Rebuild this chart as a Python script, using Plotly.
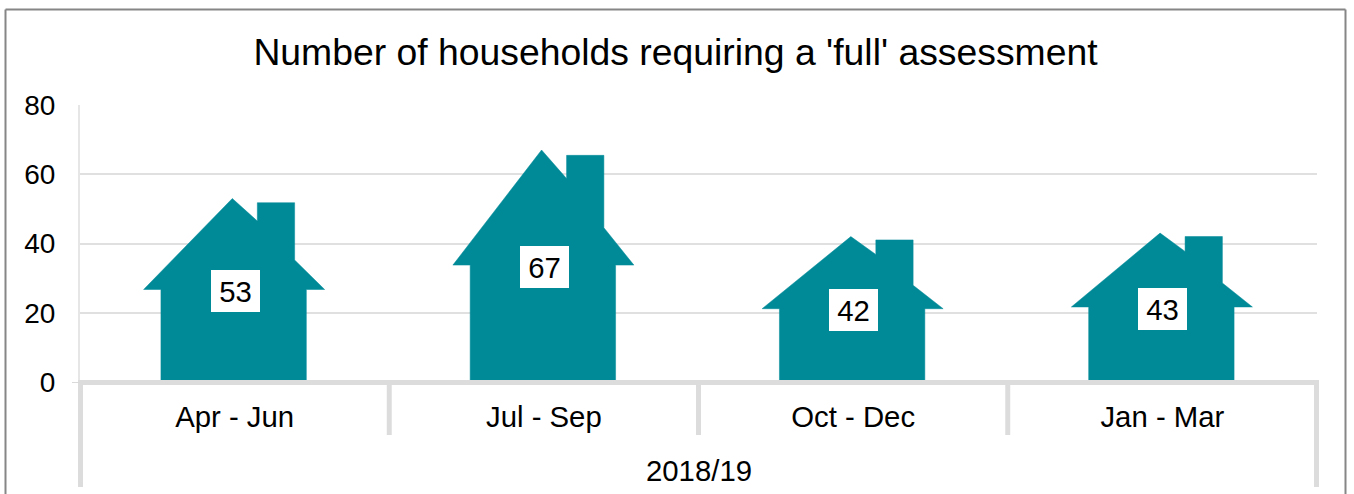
import plotly.graph_objects as go

title = "Number of households requiring a 'full' assessment"
categories = ["Apr - Jun", "Jul - Sep", "Oct - Dec", "Jan - Mar"]
period = "2018/19"
values = [53, 67, 42, 43]
y_ticks = [0, 20, 40, 60, 80]

TEAL = "#008a98"
GREY = "#d9d9d9"
FONT = "Liberation Sans, Arial, sans-serif"
W, H = 1354, 494
L, R, T, B = 80, 1317, 105, 382

# unit house outline: x offset in category widths, y as a fraction of the value
HOUSE_X = [-73.7, -73.7, -91, -2.3, 22.7, 22.7, 60, 60, 90, 71.7, 71.7]
HOUSE_Y = [0, 0.504, 0.504, 1, 0.877, 0.977, 0.977, 0.665, 0.504, 0.504, 0]
CAT_PX = (R - L) / 4

fig = go.Figure()
for i, v in enumerate(values):
    fig.add_trace(go.Scatter(
        x=[i + dx / CAT_PX for dx in HOUSE_X] + [i + HOUSE_X[0] / CAT_PX],
        y=[v * f for f in HOUSE_Y] + [0],
        mode="lines", fill="toself", fillcolor=TEAL,
        line=dict(color=TEAL, width=0.5),
        hoverinfo="skip", showlegend=False,
    ))
    fig.add_annotation(
        x=i, y=v * 0.5, xref="x", yref="y", text=str(v), showarrow=False,
        bgcolor="white", width=49, height=42, borderpad=0, borderwidth=0,
        xshift=0.5, yshift=-1,
        font=dict(size=29.33, color="black", family=FONT),
    )

def px(p):
    return (p - L) / (R - L)

def py(p):
    return (B - p) / (B - T)

shapes = []
# outer chart border (open at bottom)
border = dict(type="line", xref="paper", yref="paper", line=dict(color="#868686", width=2))
shapes.append(dict(border, x0=px(5.5), x1=px(5.5), y0=py(9.5), y1=py(494)))
shapes.append(dict(border, x0=px(1345.5), x1=px(1345.5), y0=py(9.5), y1=py(494)))
shapes.append(dict(border, x0=px(5.5), x1=px(1345.5), y0=py(9.5), y1=py(9.5)))
# baseline, drawn over the houses
shapes.append(dict(type="line", xref="paper", yref="paper", x0=px(78), x1=px(1319),
                   y0=py(382.5), y1=py(382.5), line=dict(color="#dcdcdc", width=5), layer="above"))
# multi-level category separators
n = len(categories)
for k in range(n + 1):
    bottom = 487 if k in (0, n) else 435
    xpos = px(80.5) if k == 0 else (px(1316.5) if k == n else k / n)
    shapes.append(dict(type="line", xref="paper", yref="paper", x0=xpos, x1=xpos,
                       y0=py(382), y1=py(bottom), line=dict(color="#dcdcdc", width=5),
                       layer="above"))
# zero tick
shapes.append(dict(type="line", xref="paper", yref="paper", x0=px(72), x1=px(80),
                   y0=py(382.5), y1=py(382.5), line=dict(color=GREY, width=1)))

fig.add_annotation(
    x=(n - 1) / 2, y=py(470), xref="x", yref="paper", text=period,
    showarrow=False, yanchor="middle", font=dict(size=29.33, color="black", family=FONT),
)

fig.update_layout(
    width=W, height=H,
    margin=dict(l=L, r=W - R, t=T, b=H - B, pad=0, autoexpand=False),
    paper_bgcolor="white", plot_bgcolor="white",
    font=dict(family=FONT, color="black", size=28),
    title=dict(text=title, x=675.5 / W, xanchor="center", y=1 - 52 / H, yanchor="middle",
               font=dict(size=37.33, color="black", family=FONT)),
    xaxis=dict(range=[-0.5, 3.5], tickmode="array", tickvals=list(range(n)),
               ticktext=categories, showgrid=False, zeroline=False, showline=False,
               ticks="", ticklabelstandoff=15,
               tickfont=dict(size=29.33, color="black", family=FONT)),
    yaxis=dict(range=[0, 80], tickmode="array", tickvals=y_ticks, showgrid=True,
               gridcolor="#e0e0e0", gridwidth=2, zeroline=False, showline=True,
               linecolor="#e6e6e6", linewidth=2, ticks="", ticklabelstandoff=17,
               tickfont=dict(size=28, color="black", family=FONT)),
    shapes=shapes,
)
fig.write_html("out.html", post_script="document.body.style.margin='0';",
               config=dict(displayModeBar=False))
